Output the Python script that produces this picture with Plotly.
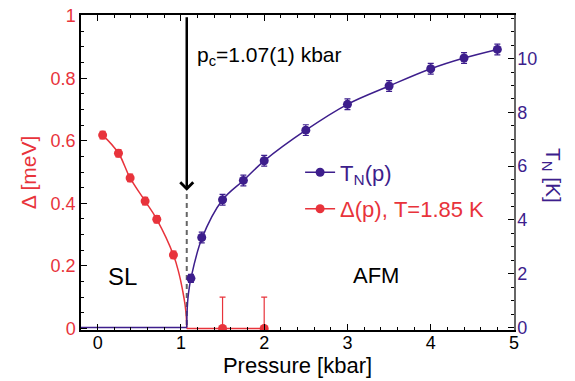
import plotly.graph_objects as go

# ---------------- data ----------------
P_GAP = [0.06, 0.25, 0.39, 0.57, 0.71, 0.91, 1.5, 2.0]
GAP = [0.618, 0.560, 0.481, 0.407, 0.349, 0.235, 0.0, 0.0]
GAP_ERR_UP = [0.012, 0.012, 0.012, 0.012, 0.012, 0.012, 0.1, 0.1]
GAP_ERR_DN = [0.012, 0.012, 0.012, 0.012, 0.012, 0.012, 0.0, 0.0]

P_TN = [1.12, 1.25, 1.5, 1.75, 2.0, 2.5, 3.0, 3.5, 4.0, 4.4, 4.8]
TN = [1.83, 3.35, 4.75, 5.47, 6.20, 7.34, 8.30, 8.98, 9.62, 10.02, 10.34]
TN_ERR = [0.15, 0.2, 0.2, 0.2, 0.2, 0.2, 0.2, 0.2, 0.2, 0.2, 0.2]

# fitted curves
GAP_FIT_P = [0.06, 0.25, 0.39, 0.57, 0.71, 0.91, 0.98, 1.02, 1.05, 1.065, 1.07]
GAP_FIT = [0.618, 0.560, 0.481, 0.407, 0.349, 0.235, 0.172, 0.122, 0.075, 0.035, 0.0]
GAP_ZERO_P = [1.07, 2.0]
GAP_ZERO = [0.0, 0.0]

TN_FIT_P = [1.07, 1.073, 1.08, 1.09, 1.10, 1.12, 1.25, 1.5, 1.75, 2.0, 2.5, 3.0, 3.5, 4.0, 4.4, 4.8]
TN_FIT = [0.0, 0.5, 0.93, 1.25, 1.48, 1.83, 3.30, 4.75, 5.47, 6.20, 7.34, 8.30, 8.98, 9.62, 10.02, 10.34]
TN_ZERO_P = [-0.2, 1.07]
TN_ZERO = [0.0, 0.0]

PC = 1.07
PC_DASH_Y = [0.43, 0.0]

X_RANGE = [-0.2, 5.0]
GAP_RANGE = [-0.005, 1.002]
TN_RANGE = [-0.09, 11.62]

RED = "#e8333b"
PURPLE = "#3d1e8c"
FONT = "Liberation Sans, Arial, Helvetica, sans-serif"

fig = go.Figure()

# gap fit + zero line
fig.add_trace(go.Scatter(x=GAP_FIT_P, y=GAP_FIT, mode="lines",
                         line=dict(color=RED, width=1.5, shape="spline", smoothing=1.2),
                         showlegend=False, hoverinfo="skip"))
fig.add_trace(go.Scatter(x=GAP_ZERO_P, y=GAP_ZERO, mode="lines",
                         line=dict(color=RED, width=1.5), showlegend=False, hoverinfo="skip"))
# TN fit + zero line
fig.add_trace(go.Scatter(x=TN_FIT_P, y=TN_FIT, mode="lines", yaxis="y2",
                         line=dict(color=PURPLE, width=1.5, shape="spline", smoothing=1.0),
                         showlegend=False, hoverinfo="skip"))
fig.add_trace(go.Scatter(x=TN_ZERO_P, y=TN_ZERO, mode="lines", yaxis="y2",
                         line=dict(color=PURPLE, width=1.5), showlegend=False, hoverinfo="skip"))

# dashed line at pc
fig.add_trace(go.Scatter(x=[PC, PC], y=PC_DASH_Y, mode="lines",
                         line=dict(color="#666666", width=2, dash="5px,4px"),
                         showlegend=False, hoverinfo="skip"))

# data points
fig.add_trace(go.Scatter(x=P_GAP, y=GAP, mode="markers",
                         marker=dict(color=RED, size=9),
                         error_y=dict(type="data", array=GAP_ERR_UP, arrayminus=GAP_ERR_DN,
                                      symmetric=False, color=RED, thickness=1.2, width=3),
                         showlegend=False))
fig.add_trace(go.Scatter(x=P_TN, y=TN, mode="markers", yaxis="y2",
                         marker=dict(color=PURPLE, size=9),
                         error_y=dict(type="data", array=TN_ERR, color=PURPLE, thickness=1.2, width=3),
                         showlegend=False))

# legend entries
fig.add_trace(go.Scatter(x=[None], y=[None], mode="lines+markers", yaxis="y2",
                         name="<span style='color:%s'>T<sub>N</sub>(p)</span>" % PURPLE,
                         line=dict(color=PURPLE, width=1.5), marker=dict(color=PURPLE, size=9),
                         legendgroup="a"))
fig.add_trace(go.Scatter(x=[None], y=[None], mode="lines+markers",
                         name="<span style='color:%s'>Δ(p), T=1.85 K</span>" % RED,
                         line=dict(color=RED, width=1.5), marker=dict(color=RED, size=9),
                         legendgroup="b"))

fig.add_annotation(x=PC, y=0.44, ax=PC, ay=1.0, xref="x", yref="y", axref="x", ayref="y",
                   showarrow=True, arrowhead=4, arrowsize=1.0, arrowwidth=2.5, arrowcolor="black",
                   text="")
fig.add_annotation(x=1.165, y=0.87, xref="x", yref="y", showarrow=False, xanchor="left",
                   text="p<sub>c</sub>=1.07(1) kbar", font=dict(size=21, color="black", family=FONT))
fig.add_annotation(x=0.30, y=0.165, xref="x", yref="y", showarrow=False,
                   text="SL", font=dict(size=24, color="black", family=FONT))
fig.add_annotation(x=3.34, y=0.169, xref="x", yref="y", showarrow=False,
                   text="AFM", font=dict(size=22, color="black", family=FONT))
fig.add_annotation(x=1.124, y=0.49, xref="paper", yref="paper", showarrow=False,
                   text="T<sub>N</sub> [K]", textangle=90,
                   font=dict(size=21, color=PURPLE, family=FONT))

# the page body adds an 8 px offset, so the figure is 8 px smaller and margins shifted
fig.update_layout(
    width=567, height=373,
    margin=dict(l=73, r=61, t=7, b=51, autoexpand=False),
    paper_bgcolor="white", plot_bgcolor="white",
    font=dict(family=FONT, size=18, color="black"),
    showlegend=True,
    legend=dict(x=0.506, y=0.567, xanchor="left", yanchor="top",
                font=dict(size=22, family=FONT), bgcolor="rgba(0,0,0,0)",
                tracegroupgap=5, traceorder="grouped"),
    xaxis=dict(range=X_RANGE, dtick=1, tick0=0, showgrid=False, zeroline=False, automargin=False,
               showline=True, linecolor="black", linewidth=1.5, mirror="ticks",
               ticks="inside", ticklen=6, tickcolor="black",
               minor=dict(dtick=0.2, ticks="inside", ticklen=3.5, tickcolor="black"),
               tickfont=dict(size=18, color="black"), ticklabelstandoff=-4,
               title=dict(text="Pressure [kbar]", font=dict(size=22), standoff=0)),
    yaxis=dict(range=GAP_RANGE, dtick=0.2, tick0=0, showgrid=False, zeroline=False, automargin=False,
               showline=True, linecolor="black", linewidth=1.5,
               ticks="inside", ticklen=6, tickcolor="black",
               minor=dict(dtick=0.05, ticks="inside", ticklen=3.5, tickcolor="black"),
               tickfont=dict(size=18, color=RED), ticklabelstandoff=0, ticklabeloverflow="allow",
               title=dict(text="Δ [meV]", font=dict(size=21, color=RED), standoff=8)),
    yaxis2=dict(range=TN_RANGE, dtick=2, tick0=0, overlaying="y", side="right", automargin=False,
                showgrid=False, zeroline=False, showline=True, linecolor="#666666", linewidth=1.5,
                ticks="inside", ticklen=6, tickcolor="black",
                minor=dict(dtick=0.5, ticks="inside", ticklen=3.5, tickcolor="black"),
                tickfont=dict(size=18, color=PURPLE), ticklabelstandoff=-2),
)

fig.write_html("out.html")
